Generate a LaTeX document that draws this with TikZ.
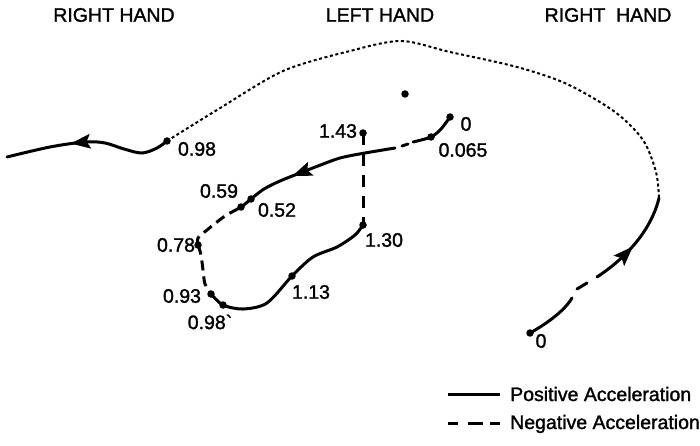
\documentclass[tikz,border=0pt]{standalone}
\usepackage{fontspec}
\setmainfont{Liberation Sans}
\newfontfamily\lblfont{Liberation Sans}[FakeBold=1.5]
\usetikzlibrary{arrows.meta,decorations.markings}
\tikzset{
  posline/.style={line width=3pt, line cap=round},
  negline/.style={line width=3pt, dash pattern=on 10pt off 6pt},
  transline/.style={line width=2pt, dash pattern=on 3pt off 2.6pt},
  dotpt/.style={circle, fill, inner sep=0pt, minimum size=7.5pt},
  lbl/.style={font=\lblfont\fontsize{19.5}{22}\selectfont, inner sep=0pt},
  arrowmid/.style={postaction={decorate}, decoration={markings,
     mark=at position #1 with {\fill (8pt,0pt) -- (-12pt,7.5pt) -- (-8pt,0pt) -- (-12pt,-7.5pt) -- cycle;}}}
}
\begin{document}
\begin{tikzpicture}[x=1pt,y=-1pt]
\useasboundingbox (0,0) rectangle (700,446);
% titles
\node[lbl] (t1) at (114,15) {RIGHT HAND};
\node[lbl] (t2) at (380,15) {LEFT HAND};
\node[lbl] (t3) at (608,15) {RIGHT\ \ HAND};
% dots
\node[dotpt] (rA) at (167,141) {};
\node[dotpt] (rB) at (530,333) {};
\node[dotpt] (l0) at (450,117) {};
\node[dotpt] (l065) at (431,137) {};
\node[dotpt] (l052) at (251,199) {};
\node[dotpt] (l059) at (241,207) {};
\node[dotpt] (l078) at (198,245) {};
\node[dotpt] (l093) at (211,294) {};
\node[dotpt] (l098) at (223,305) {};
\node[dotpt] (l113) at (292,276) {};
\node[dotpt] (l130) at (363,225) {};
\node[dotpt] (l143) at (363,133) {};
\node[dotpt] (iso) at (405,94) {};
\coordinate (rT) at (659,198);
% right hand, left part
\draw[posline, arrowmid=0.56] plot[smooth, tension=0.55] coordinates
  {(rA.center) (157,148) (142,153) (124,149) (105,143) (85,142) (50,147) (7,157)};
% transition (dotted)
\draw[transline] plot[smooth, tension=0.5] coordinates
  {(rA.center) (217,110) (283,71) (350,51) (401,41) (450,52) (517,67) (567,84) (615,112) (643,140) (656,172) (rT)};
% right hand, right part
\draw[posline] (rB.center) .. controls (548,323) and (565,310) .. (572,298);
\draw[posline] (577,289) -- (587,283);
\draw[posline, arrowmid=0.38] (597,277) .. controls (620,262) and (650,235) .. (rT);
% left hand
\draw[posline] plot[smooth] coordinates {(l0.center) (441,129) (l065.center) (413,142)};
\draw[posline] (402,146) -- (408,144);
\draw[posline, arrowmid=0.64] plot[smooth] coordinates
  {(395,148) (365,153) (340,158) (318,166) (300,173) (280,181) (264,189) (l052.center)};
\draw[negline] plot[smooth] coordinates {(l052.center) (l059.center) (225,216) (207,230) (198,238) (l078.center)};
\draw[negline] plot[smooth] coordinates {(l078.center) (201,255) (203,270) (205,284) (l093.center)};
\draw[posline] plot[smooth] coordinates
  {(l093.center) (l098.center) (243,309) (267,303) (l113.center) (313,257) (337,247) (355,235) (l130.center)};
\draw[line width=3pt, dash pattern=on 12pt off 9pt] (l143.center) -- (l130.center);
% labels
\node[lbl] (a1) at (197,149) {0.98};
\node[lbl] (a2) at (466,124) {0};
\node[lbl] (a3) at (463,150) {0.065};
\node[lbl] (a4) at (338,131) {1.43};
\node[lbl] (a5) at (219,191) {0.59};
\node[lbl] (a6) at (277,210) {0.52};
\node[lbl] (a7) at (176,245) {0.78};
\node[lbl] (a8) at (182,296) {0.93};
\node[lbl] (a9) at (210,322) {0.98\textasciigrave};
\node[lbl] (a10) at (311,292) {1.13};
\node[lbl] (a11) at (384,240) {1.30};
\node[lbl] (a12) at (541,341) {0};
% legend
\coordinate (p1) at (448,394); \coordinate (p2) at (500,394);
\coordinate (n1) at (448,423); \coordinate (n2) at (500,423);
\draw[line width=3pt] (p1) -- (p2);
\draw[line width=3pt, dash pattern=on 10pt off 10pt on 15pt off 7pt on 10pt off 10pt] (n1) -- (n2);
\node[lbl, anchor=base west] (lp) at (510,401) {Positive Acceleration};
\node[lbl, anchor=base west] (ln) at (510,429) {Negative Acceleration};
\end{tikzpicture}
\end{document}
